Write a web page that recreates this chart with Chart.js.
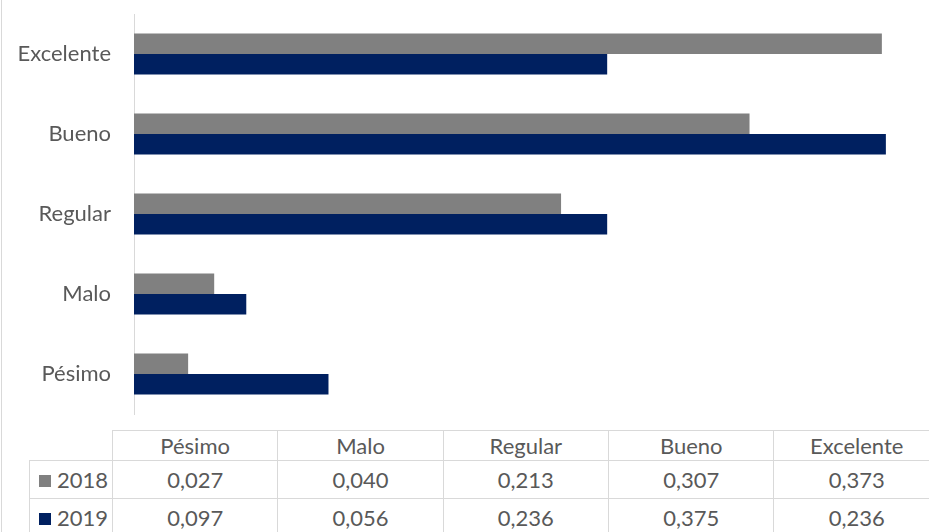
<!DOCTYPE html>
<html lang="es">
<head>
<meta charset="utf-8">
<script src="https://cdn.jsdelivr.net/npm/chart.js@4"></script>
<style>
  html, body { margin: 0; padding: 0; background: #fff; overflow: hidden; }
  #frame { position: relative; width: 940px; height: 532px; font-family: Lato, sans-serif; color: #595959; }
  #edge { position: absolute; left: 1px; top: 0; width: 1px; height: 532px; background: #d9d9d9; }
  #chart-box { position: absolute; left: 0; top: 0; width: 936px; height: 420px; }
  #data-table { position: absolute; left: 29px; top: 430px; border-collapse: collapse; table-layout: fixed; font-size: 22px; }
  #data-table td { border: 1px solid #d9d9d9; text-align: center; padding: 0; width: 165px; line-height: 1; }
  #data-table tr.head td { height: 29px; }
  #data-table tr.row td { height: 37px; }
  #data-table td.corner { border-top: none; border-left: none; width: 82px; }
  #data-table td.key { text-align: left; padding-left: 9px; width: 73px; white-space: nowrap; }
  .swatch { display: inline-block; width: 12px; height: 12px; margin-right: 6px; vertical-align: 1px; }
</style>
</head>
<body>
<div id="frame">
  <div id="edge"></div>
  <div id="chart-box"><canvas id="chart"></canvas></div>
  <table id="data-table"><tbody></tbody></table>
</div>
<script>
"use strict";

// Order follows the data table (Excel draws the first category at the bottom).
const CATEGORIES = ["Pésimo", "Malo", "Regular", "Bueno", "Excelente"];
const YEARS = ["2018", "2019"];
const VALUES_2018 = [0.027, 0.040, 0.213, 0.307, 0.373];
const VALUES_2019 = [0.097, 0.056, 0.236, 0.375, 0.236];
const COLORS = { "2018": "#808080", "2019": "#002060" };

const SERIES = { "2018": VALUES_2018, "2019": VALUES_2019 };
const fmt = (v) => v.toFixed(3).replace(".", ",");

/* ---- chart ---- */

new Chart(document.getElementById("chart"), {
  type: "bar",
  data: {
    labels: CATEGORIES,
    datasets: YEARS.map((y) => ({
      label: y,
      data: SERIES[y],
      backgroundColor: COLORS[y],
      borderWidth: 0,
      barPercentage: 1,
      categoryPercentage: 0.51,
    })),
  },
  options: {
    indexAxis: "y",
    responsive: true,
    maintainAspectRatio: false,
    animation: false,
    layout: { padding: { top: 14, bottom: 6, left: 0, right: 0 } },
    plugins: { legend: { display: false }, tooltip: { enabled: false } },
    scales: {
      x: { display: false, min: 0, max: 0.4 },
      y: {
        reverse: true,
        grid: { display: false, drawTicks: false },
        border: { display: true, color: "#d9d9d9", width: 1 },
        ticks: { color: "#595959", padding: 23, font: { family: "Lato", size: 22 } },
        // fixed label column; tick padding must not shrink the plot vertically
        afterFit: (scale) => { scale.width = 134; scale.paddingTop = 0; scale.paddingBottom = 0; },
      },
    },
  },
});

/* ---- data table ---- */

const tbody = document.querySelector("#data-table tbody");
const head = document.createElement("tr");
head.className = "head";
head.appendChild(Object.assign(document.createElement("td"), { className: "corner" }));
CATEGORIES.forEach((c) => head.appendChild(Object.assign(document.createElement("td"), { textContent: c })));
tbody.appendChild(head);

YEARS.forEach((y) => {
  const tr = document.createElement("tr");
  tr.className = "row";
  const key = document.createElement("td");
  key.className = "key";
  key.innerHTML = `<span class="swatch" style="background:${COLORS[y]}"></span>`;
  key.appendChild(document.createTextNode(y));
  tr.appendChild(key);
  SERIES[y].forEach((v) => tr.appendChild(Object.assign(document.createElement("td"), { textContent: fmt(v) })));
  tbody.appendChild(tr);
});
</script>
</body>
</html>
